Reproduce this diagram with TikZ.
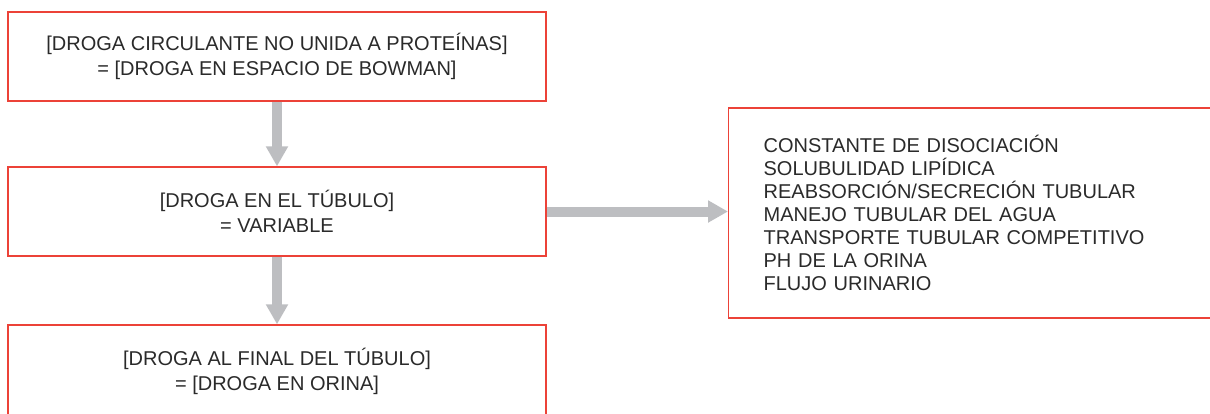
\documentclass[tikz,border=0pt]{standalone}
\usepackage{fontspec}
\setmainfont{Liberation Sans}
\usetikzlibrary{arrows.meta}
\definecolor{boxred}{HTML}{EC4238}
\definecolor{arrowgray}{HTML}{BDBEC1}
\definecolor{ink}{HTML}{2A2A2A}

\begin{document}
\begin{tikzpicture}[x=1pt,y=-1pt,
    box/.style={draw=boxred,line width=1.3pt,fill=white,text=ink,align=center,
      minimum width=538pt,minimum height=89pt,inner sep=0pt,
      font=\fontsize{20}{25}\selectfont},
    flow/.style={draw=arrowgray,line width=10pt,-{Triangle[width=21pt,length=20pt]}}]
  \useasboundingbox (0,0) rectangle (1210,413);
  % left column: three concentrations
  \node[box] (bowman) at (277,56.5)
    {[DROGA CIRCULANTE NO UNIDA A PROTEÍNAS]\\= [DROGA EN ESPACIO DE BOWMAN]};
  \node[box] (tubulo) at (277,211.5) {[DROGA EN EL TÚBULO]\\= VARIABLE};
  % bottom box runs past the page edge
  \node[box,minimum height=92pt] (orina) at (277,371)
    {[DROGA AL FINAL DEL TÚBULO]\\= [DROGA EN ORINA]};
  % right box: factors, cut off at the right edge
  \node[draw=boxred,line width=1.3pt,text=ink,align=left,anchor=west,
    text width=450pt,inner xsep=35pt,inner ysep=0pt,minimum height=210pt,
    font=\fontsize{20}{23}\selectfont] (factores) at (728,213)
    {CONSTANTE DE DISOCIACIÓN\\SOLUBULIDAD LIPÍDICA\\REABSORCIÓN/SECRECIÓN TUBULAR\\
     MANEJO TUBULAR DEL AGUA\\TRANSPORTE TUBULAR COMPETITIVO\\PH DE LA ORINA\\FLUJO URINARIO};
  % arrows
  \draw[flow] (bowman.south) -- (tubulo.north);
  \draw[flow] (tubulo.south) -- (orina.north);
  \draw[flow] (tubulo.east) -- (tubulo.east -| factores.west);
\end{tikzpicture}
\end{document}
